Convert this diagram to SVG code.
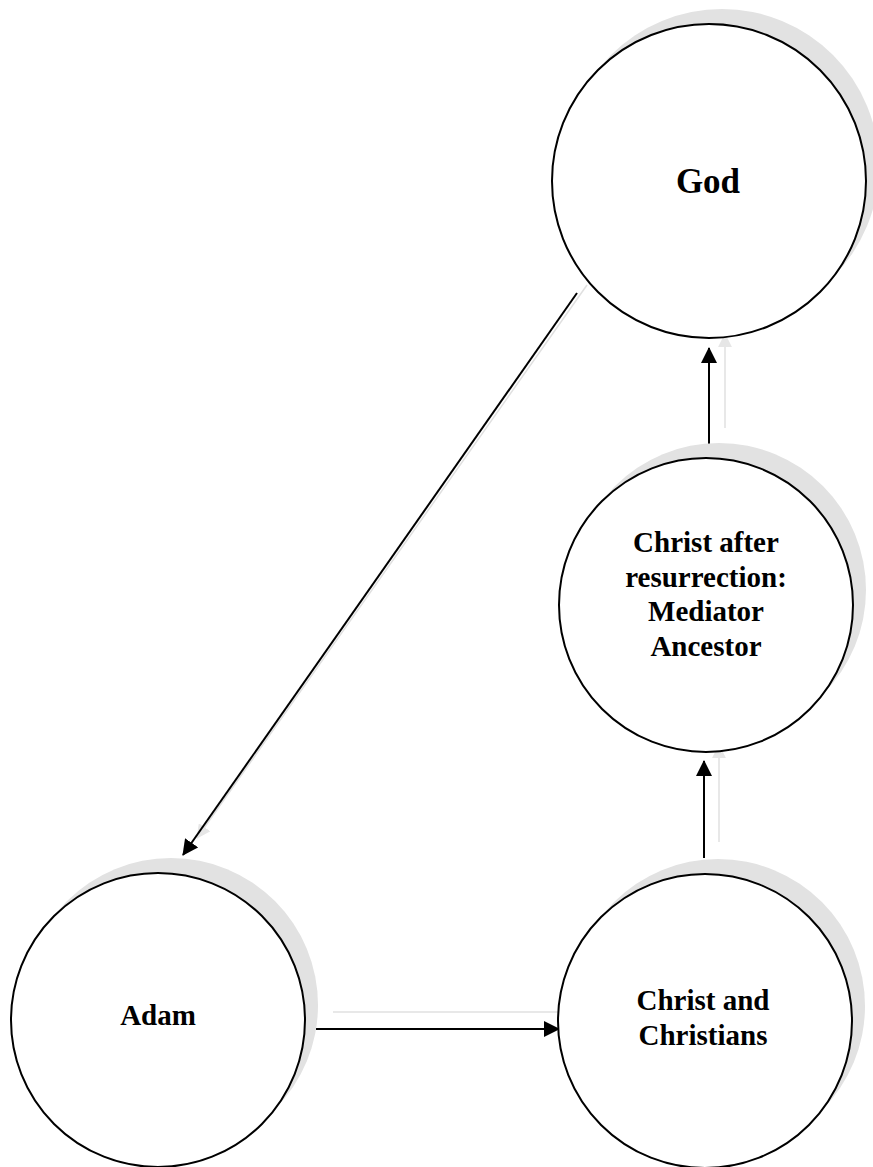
<svg xmlns="http://www.w3.org/2000/svg" width="873" height="1167" viewBox="0 0 873 1167">
  <style>
    .shadow { fill: #e2e2e2; stroke: none; }
    .node { fill: #ffffff; stroke: #000000; stroke-width: 2; }
    .label { font-family: "Liberation Serif", "Times New Roman", serif; font-weight: bold; font-size: 29px; fill: #000000; text-anchor: middle; }
    .edge { stroke: #000000; stroke-width: 2; fill: none; }
    .ghost { stroke: #e0e0e0; stroke-width: 1.5; fill: none; }
  </style>
  <defs>
    <marker id="arrow" viewBox="0 0 16 16" refX="15" refY="8" markerWidth="16" markerHeight="16" markerUnits="userSpaceOnUse" orient="auto">
      <path d="M0,0 L16,8 L0,16 Z" fill="#000000"/>
    </marker>
    <marker id="ghostArrow" viewBox="0 0 16 16" refX="15" refY="8" markerWidth="14" markerHeight="14" markerUnits="userSpaceOnUse" orient="auto">
      <path d="M0,0 L16,8 L0,16 Z" fill="#e6e6e6"/>
    </marker>
  </defs>
  <rect x="0" y="0" width="873" height="1167" fill="#ffffff"/>

  <g id="connectors">
    <line class="ghost" x1="587" y1="285" x2="197" y2="838" marker-end="url(#ghostArrow)"/>
    <line class="ghost" x1="333" y1="1012" x2="572" y2="1012" marker-end="url(#ghostArrow)"/>
    <line class="ghost" x1="719" y1="842" x2="719" y2="745" marker-end="url(#ghostArrow)"/>
    <line class="ghost" x1="725" y1="428" x2="725" y2="334" marker-end="url(#ghostArrow)"/>
    <line class="edge" x1="577" y1="293" x2="183" y2="855" marker-end="url(#arrow)"/>
    <line class="edge" x1="316" y1="1029" x2="559" y2="1029" marker-end="url(#arrow)"/>
    <line class="edge" x1="704" y1="858" x2="704" y2="761" marker-end="url(#arrow)"/>
    <line class="edge" x1="709" y1="445" x2="709" y2="348" marker-end="url(#arrow)"/>
  </g>

  <g id="node-god">
    <circle class="shadow" cx="722" cy="166" r="157"/>
    <circle class="node" cx="709" cy="181" r="157"/>
    <text class="label" x="708" y="193" style="font-size:35px">God</text>
  </g>

  <g id="node-christ-after">
    <circle class="shadow" cx="719" cy="590" r="147"/>
    <circle class="node" cx="706" cy="605" r="147"/>
    <text class="label" x="706" y="552">Christ after</text>
    <text class="label" x="706" y="587">resurrection:</text>
    <text class="label" x="706" y="621">Mediator</text>
    <text class="label" x="706" y="656">Ancestor</text>
  </g>

  <g id="node-adam">
    <circle class="shadow" cx="171" cy="1005" r="147"/>
    <circle class="node" cx="158" cy="1020" r="147"/>
    <text class="label" x="158" y="1025">Adam</text>
  </g>

  <g id="node-christians">
    <circle class="shadow" cx="718" cy="1006" r="147"/>
    <circle class="node" cx="705" cy="1021" r="147"/>
    <text class="label" x="703" y="1010">Christ and</text>
    <text class="label" x="703" y="1045">Christians</text>
  </g>
</svg>
